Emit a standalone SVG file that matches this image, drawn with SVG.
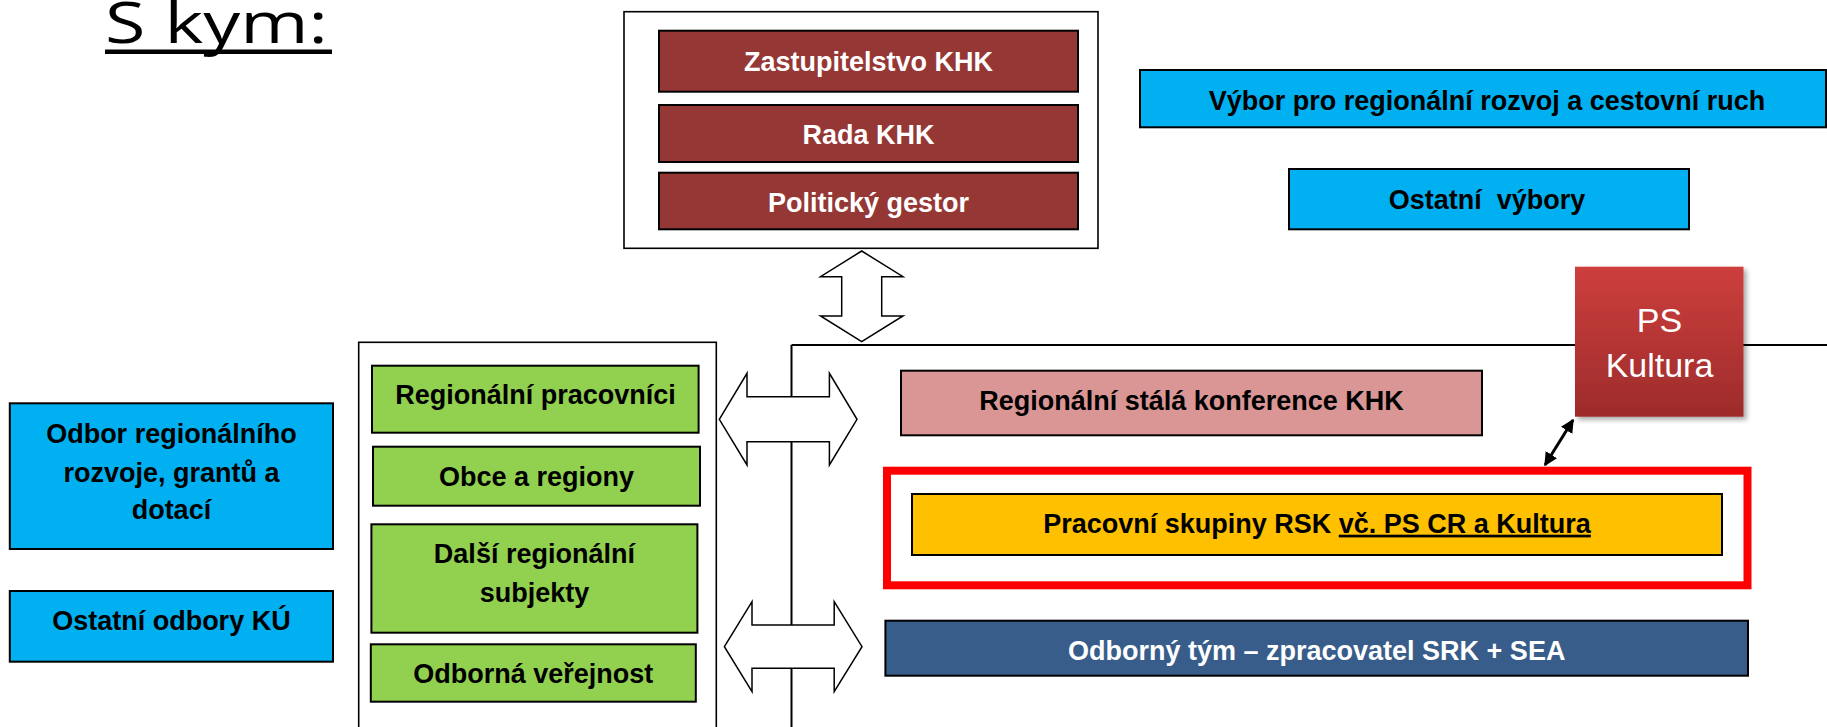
<svg xmlns="http://www.w3.org/2000/svg" width="1827" height="727" viewBox="0 0 1827 727">
<style>
.t{font-family:"Liberation Sans",Arial,sans-serif;font-weight:bold;font-size:27px;text-anchor:middle;fill:#000}
.w{fill:#fff}
.box{stroke:#000;stroke-width:2}
.frame{fill:#fff;stroke:#000;stroke-width:1.6}
.brown{fill:#953735}
.cyan{fill:#00b0f0}
.green{fill:#92d050}
.pink{fill:#d99694}
.yellow{fill:#ffc000}
.navy{fill:#385d8a}
.harrow{fill:#fff;stroke:#000;stroke-width:1.5;stroke-linejoin:miter}
.line{stroke:#000;stroke-width:2;fill:none}
</style>
<defs>
<linearGradient id="psg" x1="0" y1="0" x2="0" y2="1">
<stop offset="0" stop-color="#cd3f3d"/>
<stop offset="1" stop-color="#9d2b2b"/>
</linearGradient>
<filter id="sh" x="-10%" y="-10%" width="130%" height="130%">
<feDropShadow dx="3" dy="3" stdDeviation="2.5" flood-color="#000" flood-opacity="0.35"/>
</filter>
<marker id="ah" viewBox="0 0 10 10" refX="9" refY="5" markerWidth="4.5" markerHeight="4.5" orient="auto-start-reverse">
<path d="M0,0 L10,5 L0,10 z" fill="#000"/>
</marker>
</defs>

<g id="title">
<text x="105" y="43" font-family="'Open Sans','Liberation Sans',sans-serif" font-weight="400" font-size="57" textLength="223" lengthAdjust="spacingAndGlyphs" fill="#000">S kym:</text>
<rect x="105" y="49.5" width="227" height="4.5" fill="#000"/>
</g>

<g id="connectors">
<path class="line" d="M791.5,345 H1827"/>
<path class="line" d="M791.5,345 V727"/>
<path class="harrow" d="M861.7,251 L903,276.7 L881.7,276.7 L881.7,316 L903,316 L861.7,341.7 L820.5,316 L841.7,316 L841.7,276.7 L820.5,276.7 Z"/>
<path class="harrow" d="M719.3,419.3 L747,373.3 L747,396.7 L829.4,396.7 L829.4,373.3 L857,419.3 L829.4,465 L829.4,441.7 L747,441.7 L747,465 Z"/>
<path class="harrow" d="M724.4,646.7 L752,601.7 L752,625 L834.2,625 L834.2,601.7 L862,646.7 L834.2,691.7 L834.2,668.3 L752,668.3 L752,691.7 Z"/>
<path d="M1573,420 L1545,465" stroke="#000" stroke-width="3" fill="none" marker-start="url(#ah)" marker-end="url(#ah)"/>
</g>

<g id="top-frame">
<rect class="frame" x="624" y="11.7" width="474" height="236.6"/>
</g>
<g id="zastupitelstvo">
<rect class="box brown" x="659" y="30.7" width="419" height="61"/>
<text class="t w" x="868.5" y="70.5">Zastupitelstvo KHK</text>
</g>
<g id="rada">
<rect class="box brown" x="659" y="105" width="419" height="57"/>
<text class="t w" x="868.5" y="144">Rada KHK</text>
</g>
<g id="gestor">
<rect class="box brown" x="659" y="172.7" width="419" height="56.6"/>
<text class="t w" x="868.5" y="211.5">Politický gestor</text>
</g>

<g id="vybor">
<rect class="box cyan" x="1140" y="70" width="686" height="57.3"/>
<text class="t" x="1487" y="110">Výbor pro regionální rozvoj a cestovní ruch</text>
</g>
<g id="ostatni-vybory">
<rect class="box cyan" x="1289" y="169" width="400" height="60.3"/>
<text class="t" x="1487" y="209" xml:space="preserve">Ostatní  výbory</text>
</g>

<g id="ps-kultura">
<rect x="1575" y="266.7" width="168.5" height="150" fill="url(#psg)" filter="url(#sh)"/>
<text x="1659.5" y="332" font-family="'Liberation Sans',Arial,sans-serif" font-size="34" text-anchor="middle" fill="#fff">PS</text>
<text x="1659.5" y="377" font-family="'Liberation Sans',Arial,sans-serif" font-size="34" text-anchor="middle" fill="#fff">Kultura</text>
</g>

<g id="left-frame">
<rect class="frame" x="358.7" y="342.3" width="357.6" height="400"/>
</g>
<g id="regionalni-pracovnici">
<rect class="box green" x="372" y="365.7" width="326.6" height="67"/>
<text class="t" x="535.5" y="404">Regionální pracovníci</text>
</g>
<g id="obce">
<rect class="box green" x="373" y="446.7" width="327" height="59"/>
<text class="t" x="536.5" y="486">Obce a regiony</text>
</g>
<g id="dalsi">
<rect class="box green" x="371.4" y="524.3" width="326" height="108.4"/>
<text class="t" x="534.4" y="563.3">Další regionální</text>
<text class="t" x="534.4" y="601.7">subjekty</text>
</g>
<g id="odborna-verejnost">
<rect class="box green" x="370.8" y="644.3" width="325" height="57.4"/>
<text class="t" x="533.2" y="683.3">Odborná veřejnost</text>
</g>

<g id="odbor-regionalniho">
<rect class="box cyan" x="9.8" y="403.3" width="323.2" height="145.7"/>
<text class="t" x="171.4" y="443.3">Odbor regionálního</text>
<text class="t" x="171.4" y="481.7">rozvoje, grantů a</text>
<text class="t" x="171.4" y="519.3">dotací</text>
</g>
<g id="ostatni-odbory">
<rect class="box cyan" x="9.8" y="591" width="323.2" height="70.7"/>
<text class="t" x="171.4" y="630">Ostatní odbory KÚ</text>
</g>

<g id="rsk">
<rect class="box pink" x="901" y="370.7" width="581" height="64.6"/>
<text class="t" x="1191.5" y="410">Regionální stálá konference KHK</text>
</g>
<g id="pracovni-skupiny">
<rect x="887" y="470.7" width="860.5" height="114.6" fill="none" stroke="#ff0000" stroke-width="8"/>
<rect class="box yellow" x="912" y="494" width="810" height="61"/>
<text class="t" x="1317" y="532.7">Pracovní skupiny RSK <tspan text-decoration="underline">vč. PS CR a Kultura</tspan></text>
</g>
<g id="odborny-tym">
<rect class="box navy" x="885.4" y="620.7" width="862.6" height="55"/>
<text class="t w" x="1316.7" y="660">Odborný tým – zpracovatel SRK + SEA</text>
</g>
</svg>
